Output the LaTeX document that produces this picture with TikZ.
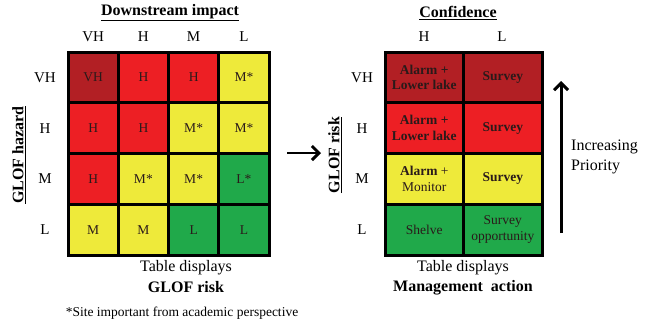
\documentclass[tikz,border=0pt]{standalone}
\usepackage{fontspec}
\setmainfont{Liberation Serif}
\usetikzlibrary{arrows.meta}
\definecolor{cdark}{HTML}{B21F24}
\definecolor{cred}{HTML}{ED1F24}
\definecolor{cyel}{HTML}{EEEA3A}
\definecolor{cgrn}{HTML}{20A94A}
\definecolor{ctxt}{HTML}{2A1A1A}
\tikzset{
  lcell/.style={draw=black, line width=3pt, minimum width=50.25pt, minimum height=50.75pt, inner sep=0pt, text=ctxt, font=\fontsize{13.5}{15}\selectfont, align=center},
  rcell/.style={draw=black, line width=3pt, minimum width=78.5pt, minimum height=50.75pt, inner sep=0pt, text=ctxt, font=\fontsize{13.5}{15.5}\selectfont, align=center},
  axlab/.style={font=\fontsize{15}{17}\selectfont, inner sep=0pt},
  ttl/.style={font=\fontsize{16}{18}\selectfont\bfseries, inner sep=0pt},
  captxt/.style={font=\fontsize{16}{19}\selectfont, inner sep=0pt, align=center},
  bigarrow/.style={line width=3pt, -{Straight Barb[length=7pt, width=14pt, line width=3pt]}},
}
\begin{document}
\begin{tikzpicture}[x=1pt,y=-1pt]
\useasboundingbox (0,0) rectangle (651,325);
% ---- left grid ----
\foreach \r/\rl in {1/VH,2/H,3/M,4/L}{
  \node[axlab] (lr\r) at (45,{52+50.75*(\r-0.5)}) {\rl};
}
\foreach \c/\cl in {1/VH,2/H,3/M,4/L}{
  \node[axlab] (lc\c) at ({68+50.25*(\c-0.5)},37) {\cl};
}
\node[lcell, fill=cdark] (l11) at ({68+50.25*0.5},{52+50.75*0.5}) {VH};
\node[lcell, fill=cred]  (l12) at ({68+50.25*1.5},{52+50.75*0.5}) {H};
\node[lcell, fill=cred]  (l13) at ({68+50.25*2.5},{52+50.75*0.5}) {H};
\node[lcell, fill=cyel]  (l14) at ({68+50.25*3.5},{52+50.75*0.5}) {M*};
\node[lcell, fill=cred]  (l21) at ({68+50.25*0.5},{52+50.75*1.5}) {H};
\node[lcell, fill=cred]  (l22) at ({68+50.25*1.5},{52+50.75*1.5}) {H};
\node[lcell, fill=cyel]  (l23) at ({68+50.25*2.5},{52+50.75*1.5}) {M*};
\node[lcell, fill=cyel]  (l24) at ({68+50.25*3.5},{52+50.75*1.5}) {M*};
\node[lcell, fill=cred]  (l31) at ({68+50.25*0.5},{52+50.75*2.5}) {H};
\node[lcell, fill=cyel]  (l32) at ({68+50.25*1.5},{52+50.75*2.5}) {M*};
\node[lcell, fill=cyel]  (l33) at ({68+50.25*2.5},{52+50.75*2.5}) {M*};
\node[lcell, fill=cgrn]  (l34) at ({68+50.25*3.5},{52+50.75*2.5}) {L*};
\node[lcell, fill=cyel]  (l41) at ({68+50.25*0.5},{52+50.75*3.5}) {M};
\node[lcell, fill=cyel]  (l42) at ({68+50.25*1.5},{52+50.75*3.5}) {M};
\node[lcell, fill=cgrn]  (l43) at ({68+50.25*2.5},{52+50.75*3.5}) {L};
\node[lcell, fill=cgrn]  (l44) at ({68+50.25*3.5},{52+50.75*3.5}) {L};
\node[ttl] (lt) at (170,13) {\underline{Downstream\ impact}};
\node[ttl, rotate=90] (lh) at (19,155) {\underline{GLOF\ hazard}};
\node[captxt] (lcap1) at (186,268) {Table displays};
\node[captxt, font=\fontsize{16}{19}\selectfont\bfseries] (lcap2) at (186,287) {GLOF risk};
\node[inner sep=0pt, font=\fontsize{13.5}{15}\selectfont] (foot) at (182,313) {*Site important from academic perspective};
% ---- middle arrow ----
\coordinate (ma) at (287,153);
\coordinate (mb) at (321,153);
\draw[bigarrow, line width=2.6pt] (ma) -- (mb);
% ---- right grid ----
\foreach \r/\rl in {1/VH,2/H,3/M,4/L}{
  \node[axlab] (rr\r) at (362,{52+50.75*(\r-0.5)}) {\rl};
}
\node[axlab] (rc1) at (424,37) {H};
\node[axlab] (rc2) at (502,37) {L};
\node[rcell, fill=cdark] (r11) at ({385+78.5*0.5},{52+50.75*0.5}) {\bfseries Alarm +\\\bfseries Lower lake};
\node[rcell, fill=cdark] (r12) at ({385+78.5*1.5},{52+50.75*0.5}) {\bfseries Survey};
\node[rcell, fill=cred]  (r21) at ({385+78.5*0.5},{52+50.75*1.5}) {\bfseries Alarm +\\\bfseries Lower lake};
\node[rcell, fill=cred]  (r22) at ({385+78.5*1.5},{52+50.75*1.5}) {\bfseries Survey};
\node[rcell, fill=cyel]  (r31) at ({385+78.5*0.5},{52+50.75*2.5}) {\textbf{Alarm} +\\Monitor};
\node[rcell, fill=cyel]  (r32) at ({385+78.5*1.5},{52+50.75*2.5}) {\bfseries Survey};
\node[rcell, fill=cgrn]  (r41) at ({385+78.5*0.5},{52+50.75*3.5}) {Shelve};
\node[rcell, fill=cgrn]  (r42) at ({385+78.5*1.5},{52+50.75*3.5}) {Survey\\opportunity};
\node[ttl] (rt) at (458,13) {\underline{Confidence}};
\node[ttl, rotate=90] (rh) at (335,155) {\underline{GLOF\ risk}};
\node[captxt] (rcap1) at (463,268) {Table displays};
\node[captxt, font=\fontsize{16}{19}\selectfont\bfseries] (rcap2) at (463,288) {Management\ \ action};
% ---- priority arrow ----
\coordinate (pa) at (561,233);
\coordinate (pb) at (561,81);
\draw[bigarrow] (pa) -- (pb);
\node[captxt, align=left, anchor=west, font=\fontsize{16}{20}\selectfont] (prio) at (571,156.5) {Increasing\\Priority};
\end{tikzpicture}
\end{document}
